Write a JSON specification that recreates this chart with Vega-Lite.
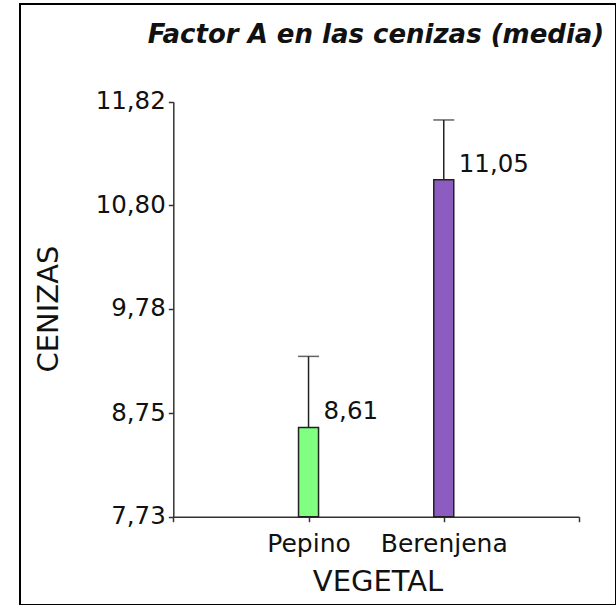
{
  "$schema": "https://vega.github.io/schema/vega-lite/v6.json",
  "autosize": {"type": "none"},
  "padding": {"left": 20, "top": 4, "right": 0, "bottom": 0},
  "width": 596,
  "height": 601,
  "title": {
    "text": "Factor A en las cenizas (media)",
    "font": "DejaVu Sans",
    "fontSize": 26,
    "fontWeight": "bold",
    "fontStyle": "italic",
    "color": "#111",
    "anchor": "middle",
    "frame": "group",
    "offset": 0,
    "baseline": "alphabetic",
    "dx": 58,
    "dy": 65
  },
  "data": {
    "values": [
      {"VEGETAL": "Pepino", "media": 8.61, "sup": 9.31},
      {"VEGETAL": "Berenjena", "media": 11.05, "sup": 11.64}
    ]
  },
  "layer": [
    {
      "mark": {"type": "bar", "width": 20, "stroke": "#222", "strokeWidth": 1.5},
      "encoding": {
        "x": {
          "field": "VEGETAL", "type": "nominal",
          "scale": {"type": "point", "domain": ["a0", "Pepino", "Berenjena", "a3"], "range": [153.3, 559], "padding": 0},
          "axis": {
            "title": "VEGETAL",
            "offset": -88.3,
            "labelExpr": "indexof(['Pepino','Berenjena'], datum.value) >= 0 ? datum.value : ''",
            "labelAngle": 0,
            "tickSize": 5,
            "labelPadding": 10,
            "labelFontSize": 25,
            "titleFontSize": 29,
            "titleFontWeight": "normal",
            "titleX": 357.5,
            "titleY": 73.3,
            "titleBaseline": "alphabetic",
            "titleAlign": "center",
            "grid": false
          }
        },
        "y": {
          "field": "media", "type": "quantitative",
          "scale": {"domain": [7.73, 11.82], "range": [512.7, 97.7], "nice": false, "zero": false},
          "axis": {
            "title": "CENIZAS",
            "values": [7.73, 8.75, 9.78, 10.8, 11.82],
            "format": ".2f",
            "offset": -153.3,
            "grid": false,
            "tickSize": 5,
            "labelPadding": 3,
            "labelFontSize": 24.5,
            "titleFontSize": 29,
            "titleFontWeight": "normal",
            "titleX": -125.3,
            "titleY": 304.5,
            "titleAngle": 270,
            "titleBaseline": "middle",
            "titleAlign": "center"
          }
        },
        "y2": {"datum": 7.73},
        "color": {
          "field": "VEGETAL", "type": "nominal",
          "scale": {"domain": ["Pepino", "Berenjena"], "range": ["#80FF80", "#8C5CC0"]},
          "legend": null
        }
      }
    },
    {
      "mark": {"type": "rule", "color": "#222", "strokeWidth": 1.5},
      "encoding": {
        "x": {"field": "VEGETAL", "type": "nominal"},
        "y": {"field": "media", "type": "quantitative"},
        "y2": {"field": "sup"}
      }
    },
    {
      "mark": {"type": "tick", "orient": "horizontal", "size": 21, "thickness": 1.5, "color": "#222"},
      "encoding": {
        "x": {"field": "VEGETAL", "type": "nominal"},
        "y": {"field": "sup", "type": "quantitative"}
      }
    },
    {
      "mark": {"type": "text", "align": "left", "baseline": "alphabetic", "dx": 15, "dy": -8, "font": "DejaVu Sans", "fontSize": 24.5, "color": "#111"},
      "encoding": {
        "x": {"field": "VEGETAL", "type": "nominal"},
        "y": {"field": "media", "type": "quantitative"},
        "text": {"field": "media", "type": "quantitative", "format": ".2f"}
      }
    }
  ],
  "config": {
    "locale": {"number": {"decimal": ",", "thousands": ".", "grouping": [3], "currency": ["", " €"]}},
    "font": "DejaVu Sans",
    "view": {"stroke": "black", "strokeWidth": 2},
    "axis": {
      "labelFont": "DejaVu Sans",
      "titleFont": "DejaVu Sans",
      "labelColor": "#111",
      "titleColor": "#111",
      "domainColor": "#333",
      "tickColor": "#333",
      "domainWidth": 1.5,
      "tickWidth": 1.5
    }
  }
}
